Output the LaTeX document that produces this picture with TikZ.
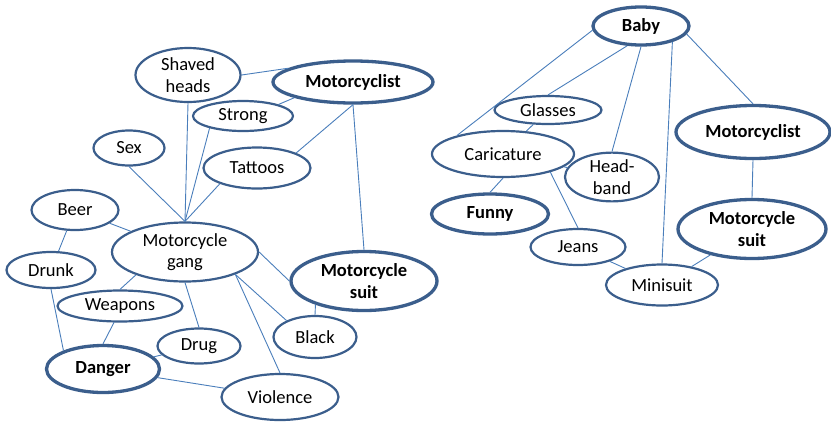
\documentclass[tikz,border=0pt]{standalone}
\usepackage{fontspec}
\setmainfont{Carlito}
\usetikzlibrary{shapes.geometric}
\definecolor{outl}{HTML}{3B5E8C}
\definecolor{lnk}{HTML}{4A7EBB}
\tikzset{
  ell/.style={ellipse, draw=outl, line width=2.2pt, inner sep=0pt, align=center,
    font=\fontsize{18.5}{21.5}\selectfont, text=black},
  bell/.style={ell, line width=3.3pt, font=\fontsize{18.5}{21.5}\selectfont\bfseries},
  lk/.style={draw=lnk, line width=0.9pt}
}
\begin{document}
\begin{tikzpicture}[x=1pt,y=-1pt]
\useasboundingbox (0,0) rectangle (831,421);
% left map
\node[ell, minimum width=105pt, minimum height=54pt] (sh) at (188,75) {Shaved\\heads};
\node[bell, minimum width=160pt, minimum height=42pt] (mc1) at (353,82) {Motorcyclist};
\node[ell, minimum width=100pt, minimum height=30pt] (strong) at (243,116) {Strong};
\node[ell, minimum width=71pt, minimum height=35pt] (sex) at (129,148) {Sex};
\node[ell, minimum width=107pt, minimum height=41pt] (tat) at (257,168) {Tattoos};
\node[ell, minimum width=87pt, minimum height=40pt] (beer) at (75,210) {Beer};
\node[ell, minimum width=146pt, minimum height=59pt] (gang) at (185,252) {Motorcycle\\gang};
\node[ell, minimum width=89pt, minimum height=36pt] (drunk) at (51,270) {Drunk};
\node[ell, minimum width=125pt, minimum height=31pt] (weap) at (120,306) {Weapons};
\node[bell, minimum width=146pt, minimum height=59pt] (suit1) at (364,281) {Motorcycle\\suit};
\node[ell, minimum width=83pt, minimum height=42pt] (black) at (315,337) {Black};
\node[ell, minimum width=83pt, minimum height=35pt] (drug) at (199,346) {Drug};
\node[bell, minimum width=113pt, minimum height=47pt] (danger) at (103,369) {Danger};
\node[ell, minimum width=117pt, minimum height=46pt] (viol) at (280,397) {Violence};
% right map
\node[bell, minimum width=96pt, minimum height=38pt] (baby) at (641,26) {Baby};
\node[ell, minimum width=107pt, minimum height=28pt] (gl) at (548,110) {Glasses};
\node[ell, minimum width=142pt, minimum height=46pt] (car) at (503,154) {Caricature};
\node[ell, minimum width=94pt, minimum height=45pt] (hb) at (612,177) {Head-\\band};
\node[bell, minimum width=154pt, minimum height=53pt] (mc2) at (753,132) {Motorcyclist};
\node[bell, minimum width=117pt, minimum height=40pt] (funny) at (490,214) {Funny};
\node[bell, minimum width=148pt, minimum height=59pt] (suit2) at (752,229) {Motorcycle\\suit};
\node[ell, minimum width=95pt, minimum height=36pt] (jeans) at (578,247) {Jeans};
\node[ell, minimum width=112pt, minimum height=41pt] (mini) at (662,285) {Minisuit};
% left links
\draw[lk] (sh.east) -- (mc1.168);
\draw[lk] (mc1.195) -- (strong.18);
\draw[lk] (mc1.south) -- (tat.21);
\draw[lk] (mc1.south) -- (suit1.north);
\draw[lk] (sh.south) -- (gang.north);
\draw[lk] (strong.200) -- (gang.north);
\draw[lk] (sex.south) -- (gang.north);
\draw[lk] (tat.203) -- (gang.north);
\draw[lk] (beer) -- (gang);
\draw[lk] (beer) -- (drunk);
\draw[lk] (drunk.south) -- (danger.155);
\draw[lk] (gang.205) -- (weap.north);
\draw[lk] (weap.250) -- (danger.north);
\draw[lk] (gang.south) -- (drug.north);
\draw[lk] (drug) -- (danger);
\draw[lk] (danger) -- (viol);
\draw[lk] (gang.336) -- (viol.north);
\draw[lk] (gang.336) -- (black.150);
\draw[lk] (gang.east) -- (suit1.west);
\draw[lk] (suit1.206) -- (black.north);
% right links
\draw[lk] (baby.185) -- (car.158);
\draw[lk] (baby.235) -- (gl.north);
\draw[lk] (baby.south) -- (hb.north);
\draw[lk] (baby.333) -- (mini.north);
\draw[lk] (baby.350) -- (mc2.north);
\draw[lk] (gl) -- (car);
\draw[lk] (car) -- (hb);
\draw[lk] (car.south) -- (funny.north);
\draw[lk] (car.339) -- (jeans.north);
\draw[lk] (jeans) -- (mini);
\draw[lk] (mc2.south) -- (suit2.north);
\draw[lk] (suit2) -- (mini);
\end{tikzpicture}
\end{document}
